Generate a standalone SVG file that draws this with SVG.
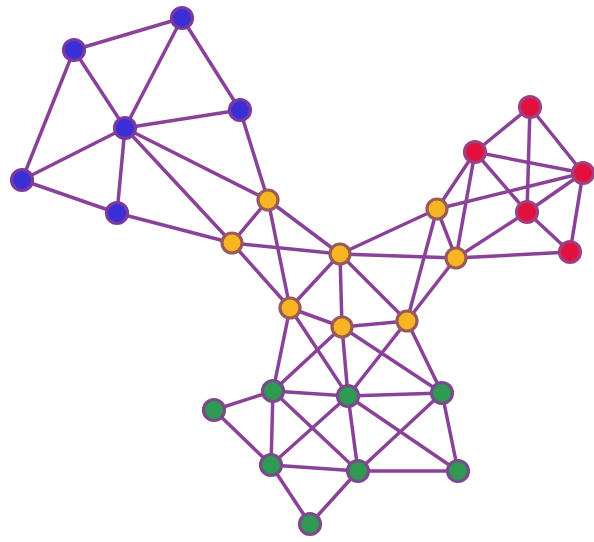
<svg xmlns="http://www.w3.org/2000/svg" width="594" height="542" viewBox="0 0 594 542">
<style>
.e line{stroke:#8a4299;stroke-width:3.5;stroke-linecap:round}
circle{stroke-width:3.2}
.b circle{fill:#3a2fd6;stroke:#7a3a9e}
.y circle{fill:#f7b522;stroke:#9a5a5a}
.r circle{fill:#e3103e;stroke:#a04080}
.g circle{fill:#2e9a52;stroke:#7a4a8a}
</style>
<rect width="594" height="542" fill="#fff"/>
<g class="e">
<line x1="182" y1="18" x2="74" y2="50"/>
<line x1="182" y1="18" x2="125" y2="128"/>
<line x1="182" y1="18" x2="240" y2="110"/>
<line x1="74" y1="50" x2="125" y2="128"/>
<line x1="74" y1="50" x2="22" y2="180"/>
<line x1="125" y1="128" x2="240" y2="110"/>
<line x1="125" y1="128" x2="22" y2="180"/>
<line x1="125" y1="128" x2="117" y2="213"/>
<line x1="22" y1="180" x2="117" y2="213"/>
<line x1="125" y1="128" x2="268" y2="200"/>
<line x1="125" y1="128" x2="232" y2="243"/>
<line x1="240" y1="110" x2="268" y2="200"/>
<line x1="117" y1="213" x2="232" y2="243"/>
<line x1="268" y1="200" x2="232" y2="243"/>
<line x1="268" y1="200" x2="290" y2="308"/>
<line x1="268" y1="200" x2="340" y2="254"/>
<line x1="232" y1="243" x2="340" y2="254"/>
<line x1="232" y1="243" x2="290" y2="308"/>
<line x1="340" y1="254" x2="290" y2="308"/>
<line x1="340" y1="254" x2="342" y2="327"/>
<line x1="340" y1="254" x2="407" y2="321"/>
<line x1="340" y1="254" x2="437" y2="209"/>
<line x1="340" y1="254" x2="456" y2="258"/>
<line x1="437" y1="209" x2="456" y2="258"/>
<line x1="437" y1="209" x2="407" y2="321"/>
<line x1="456" y1="258" x2="407" y2="321"/>
<line x1="290" y1="308" x2="342" y2="327"/>
<line x1="342" y1="327" x2="407" y2="321"/>
<line x1="437" y1="209" x2="475" y2="152"/>
<line x1="456" y1="258" x2="475" y2="152"/>
<line x1="437" y1="209" x2="583" y2="173"/>
<line x1="456" y1="258" x2="527" y2="212"/>
<line x1="456" y1="258" x2="570" y2="252"/>
<line x1="475" y1="152" x2="530" y2="107"/>
<line x1="530" y1="107" x2="583" y2="173"/>
<line x1="530" y1="107" x2="527" y2="212"/>
<line x1="475" y1="152" x2="583" y2="173"/>
<line x1="475" y1="152" x2="527" y2="212"/>
<line x1="583" y1="173" x2="527" y2="212"/>
<line x1="583" y1="173" x2="570" y2="252"/>
<line x1="527" y1="212" x2="570" y2="252"/>
<line x1="290" y1="308" x2="273" y2="391"/>
<line x1="290" y1="308" x2="348" y2="396"/>
<line x1="342" y1="327" x2="273" y2="391"/>
<line x1="342" y1="327" x2="348" y2="396"/>
<line x1="342" y1="327" x2="442" y2="393"/>
<line x1="407" y1="321" x2="348" y2="396"/>
<line x1="407" y1="321" x2="442" y2="393"/>
<line x1="214" y1="410" x2="273" y2="391"/>
<line x1="214" y1="410" x2="271" y2="465"/>
<line x1="273" y1="391" x2="348" y2="396"/>
<line x1="273" y1="391" x2="271" y2="465"/>
<line x1="273" y1="391" x2="358" y2="471"/>
<line x1="348" y1="396" x2="442" y2="393"/>
<line x1="348" y1="396" x2="271" y2="465"/>
<line x1="348" y1="396" x2="358" y2="471"/>
<line x1="348" y1="396" x2="458" y2="471"/>
<line x1="442" y1="393" x2="358" y2="471"/>
<line x1="442" y1="393" x2="458" y2="471"/>
<line x1="271" y1="465" x2="358" y2="471"/>
<line x1="358" y1="471" x2="458" y2="471"/>
<line x1="271" y1="465" x2="310" y2="524"/>
<line x1="358" y1="471" x2="310" y2="524"/>
</g>
<g class="b">
<g id="b1"><circle cx="182" cy="18" r="10.5"/></g>
<g id="b2"><circle cx="74" cy="50" r="10.5"/></g>
<g id="b3"><circle cx="125" cy="128" r="10.5"/></g>
<g id="b4"><circle cx="240" cy="110" r="10.5"/></g>
<g id="b5"><circle cx="22" cy="180" r="10.5"/></g>
<g id="b6"><circle cx="117" cy="213" r="10.5"/></g>
</g>
<g class="y">
<g id="y1"><circle cx="268" cy="200" r="10"/></g>
<g id="y2"><circle cx="232" cy="243" r="10"/></g>
<g id="y3"><circle cx="340" cy="254" r="10"/></g>
<g id="y4"><circle cx="437" cy="209" r="10"/></g>
<g id="y5"><circle cx="456" cy="258" r="10"/></g>
<g id="y6"><circle cx="290" cy="308" r="10"/></g>
<g id="y7"><circle cx="342" cy="327" r="10"/></g>
<g id="y8"><circle cx="407" cy="321" r="10"/></g>
</g>
<g class="r">
<g id="r1"><circle cx="530" cy="107" r="10.5"/></g>
<g id="r2"><circle cx="475" cy="152" r="10.5"/></g>
<g id="r3"><circle cx="583" cy="173" r="10.5"/></g>
<g id="r4"><circle cx="527" cy="212" r="10.5"/></g>
<g id="r5"><circle cx="570" cy="252" r="10.5"/></g>
</g>
<g class="g">
<g id="g1"><circle cx="273" cy="391" r="10.5"/></g>
<g id="g2"><circle cx="214" cy="410" r="10.5"/></g>
<g id="g3"><circle cx="348" cy="396" r="10.5"/></g>
<g id="g4"><circle cx="442" cy="393" r="10.5"/></g>
<g id="g5"><circle cx="271" cy="465" r="10.5"/></g>
<g id="g6"><circle cx="358" cy="471" r="10.5"/></g>
<g id="g7"><circle cx="458" cy="471" r="10.5"/></g>
<g id="g8"><circle cx="310" cy="524" r="10.5"/></g>
</g>
</svg>
